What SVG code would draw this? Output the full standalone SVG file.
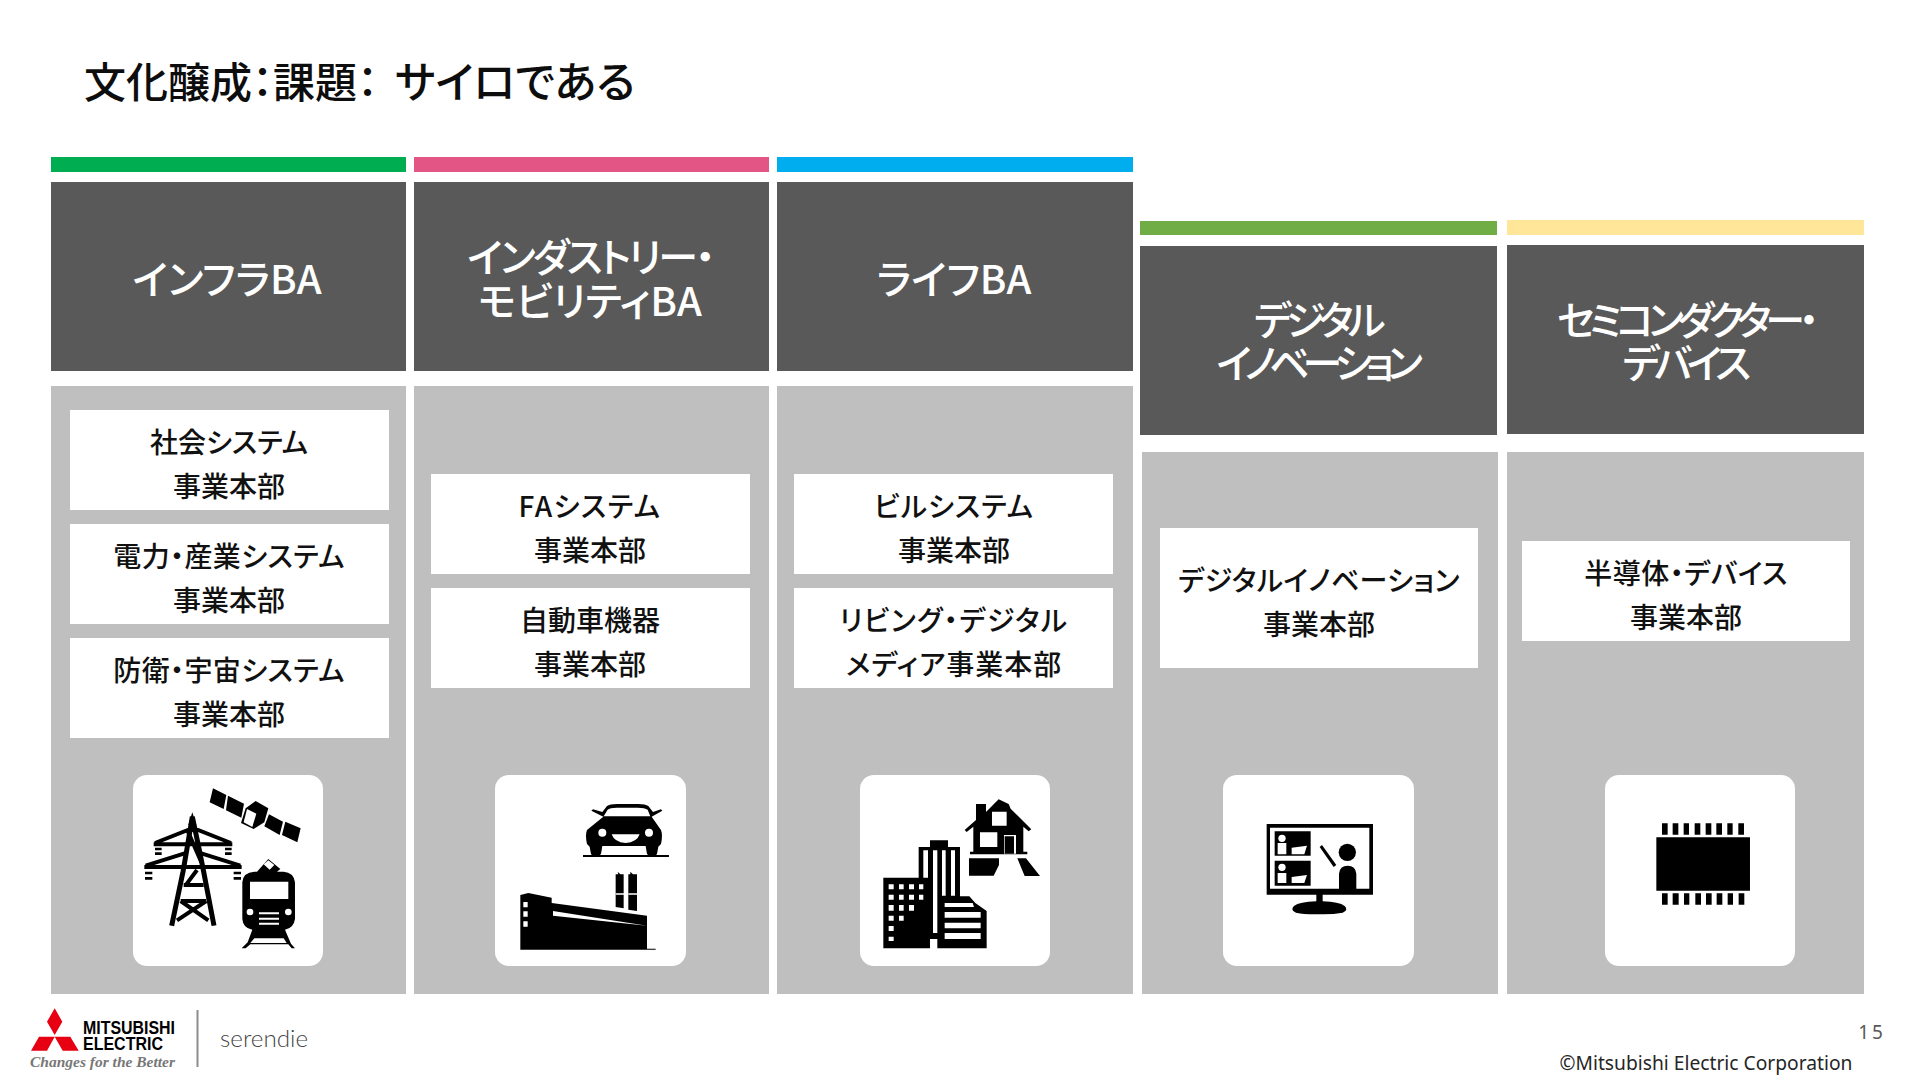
<svg xmlns="http://www.w3.org/2000/svg" width="1920" height="1080" viewBox="0 0 1920 1080">
<style>
text{font-family:"Noto Sans CJK JP","Noto Sans",sans-serif;font-feature-settings:"palt";text-anchor:middle}
.h{fill:#fff;font-size:40px;font-weight:500}
.b{fill:#111;font-size:28px;font-weight:500}
.k{letter-spacing:1px}
.d{fill:#595959}
.g{fill:#bfbfbf}
.w{fill:#fff}
.i{fill:#000}
.l{fill:none;stroke:#000}
</style>
<rect width="1920" height="1080" fill="#fff"/>
<text id="title" y="98" style="text-anchor:start;font-size:42px;font-weight:500;fill:#0d0d0d"><tspan x="84">文化醸成：</tspan><tspan x="273">課題：</tspan><tspan x="395" style="font-size:43px">サイロである</tspan></text>

<g id="col-infra">
<rect x="51" y="157" width="355" height="15" fill="#00ad50"/>
<rect class="d" x="51" y="182" width="355" height="189"/>
<text class="h" x="227" y="294">インフラBA</text>
<rect class="g" x="51" y="386" width="355" height="608"/>
<rect class="w" x="70" y="410" width="319" height="100"/>
<text class="b" x="229" y="453">社会システム</text><text class="b" x="229" y="497">事業本部</text>
<rect class="w" x="70" y="524" width="319" height="100"/>
<text class="b" x="229" y="567" style="letter-spacing:.4px">電力・産業システム</text><text class="b" x="229" y="611">事業本部</text>
<rect class="w" x="70" y="638" width="319" height="100"/>
<text class="b" x="229" y="681" style="letter-spacing:.4px">防衛・宇宙システム</text><text class="b" x="229" y="725">事業本部</text>
<rect class="w" x="133" y="775" width="190" height="191" rx="14"/>
<g transform="translate(133 775) scale(.3333)">
<path class="i" d="M240 40l40 20-8 42-42-20zM285 62l48 24-8 42-46-22zM338 100l30-22 38 22-12 42-32 20-38-18zM408 118l42 22-10 40-46-26zM457 140l46 20-10 42-46-22z"/>
<path class="w" d="M342 102l28 14-12 40-26-14z"/>
<path class="l" stroke-width="15" d="M178 125L163 215 150 290 116 452M178 125L197 215 212 290 243 452"/>
<path class="l" stroke-width="12" d="M62 208H298M34 276H326M66 204L165 165H195L294 204M38 272L155 235M322 272L205 235M165 170L205 262M192 285L160 328M152 330H212M143 378H220M143 378L226 436M220 378L132 436"/>
<path class="i" d="M178 112l12 38h-24z"/>
<path class="i" d="M66 218h20v8H66zM66 232h20v8H66zM276 218h20v8h-20zM276 232h20v8h-20zM36 290h22v8H36zM36 306h22v8H36zM302 290h22v8h-22zM302 306h22v8h-22z"/>
<path class="i" d="M374 290h-2l34-38 36 30-10 8h20q30 2 34 32v110q-4 28-30 32l18 42 12 14h-10l-10-12h-114l-14 12h-12l18-18 14-38q-28-4-30-32V322q2-30 36-32z"/>
<path class="w" d="M351 320h115v52H351zM392 268l14-12 18 14-14 14zM378 412h60v6h-60zM378 428h60v6h-60zM378 443h60v6h-60zM364 490h88l9 14H352z"/>
<circle class="w" cx="351" cy="411" r="10"/><circle class="w" cx="466" cy="411" r="10"/>
</g>
</g>

<g id="col-industry">
<rect x="414" y="157" width="355" height="15" fill="#e25584"/>
<rect class="d" x="414" y="182" width="355" height="189"/>
<text class="h" x="590" y="272" style="letter-spacing:-2.6px">インダストリー・</text><text class="h" x="590" y="316">モビリティBA</text>
<rect class="g" x="414" y="386" width="355" height="608"/>
<rect class="w" x="431" y="474" width="319" height="100"/>
<text class="b" x="590" y="517" style="letter-spacing:1.5px">FAシステム</text><text class="b" x="590" y="561">事業本部</text>
<rect class="w" x="431" y="588" width="319" height="100"/>
<text class="b" x="590" y="631">自動車機器</text><text class="b" x="590" y="675">事業本部</text>
<rect class="w" x="495" y="775" width="191" height="191" rx="14"/>
<g transform="translate(495 775) scale(.3333)">
<path class="i" d="M264 240h258v6H264z"/>
<path class="i" d="M325 125l-36-18 5-4 28 8 14-18q8-6 30-6h64q22 0 30 6l14 18 24-8 4 4-32 18 28 40q6 16 0 42l-8 8-4 22q-4 8-14 8t-16-8l-4-24H322l-4 24q-6 8-16 8t-14-8l-4-22-8-8q-6-26 0-42z"/>
<path class="w" d="M326 124l12-20q6-6 28-6h62q22 0 30 6l8 20zM350 178h84q-8 24-42 26-34-2-42-26z"/>
<circle class="w" cx="322" cy="173" r="12"/><circle class="w" cx="462" cy="173" r="12"/>
<path class="i" d="M368 290l8 8h10v102l-24-4V298h8zM406 290l8 8h12v110l-26-4V298h6z"/>
<path class="w" d="M362 355h26v4h-26zM400 355h26v4h-26z"/>
<path class="i" d="M76 360l24-6 70 14v16l286 38v30L174 408v14l282 30v69h26v3H76z"/>
<path class="w" d="M85 381h13v16H85zM85 409h13v16H85zM85 439h13v16H85z"/>
</g>
</g>

<g id="col-life">
<rect x="777" y="157" width="356" height="15" fill="#00aeef"/>
<rect class="d" x="777" y="182" width="356" height="189"/>
<text class="h" x="954" y="294">ライフBA</text>
<rect class="g" x="777" y="386" width="356" height="608"/>
<rect class="w" x="794" y="474" width="319" height="100"/>
<text class="b k" x="954" y="517">ビルシステム</text><text class="b" x="954" y="561">事業本部</text>
<rect class="w" x="794" y="588" width="319" height="100"/>
<text class="b k" x="954" y="631" style="letter-spacing:1.4px">リビング・デジタル</text><text class="b k" x="954" y="675">メディア事業本部</text>
<rect class="w" x="860" y="775" width="190" height="191" rx="14"/>
<g transform="translate(860 775) scale(.3333)">
<path class="i" d="M348 87h30v24l38-38 30 14 6 14 62 62-8 6-16-14v75h12v8H330v-8h10v-75l-20 16-6-6 34-30z"/>
<path class="w" d="M396 110h44v42h-44zM360 172h52v44h-52zM432 180h36v56h-36z"/>
<path class="i" d="M434 184h28v52h-28zM327 250h90v20l-16 32h-74zM472 250h26l42 53h-46z"/>
<path class="i" d="M70 308h106v-92h34v-20h54v20h36v148h28l18 20 34 24v112H232v-28h-22v28H70z"/>
<path class="w" d="M190 226h14v82h-14zM219 226h13v248h-13zM246 226h11v136h-11zM273 226h12v136h-12zM254 384h84l4 12h-88zM254 411h108v17H254zM254 443h108v17H254zM254 474h108v18H254z"/>
<path class="w" d="M86 328h15v15H86zM117 328h14v15h-14zM147 328h15v15h-15zM177 328h13v15h-13zM86 359h15v15H86zM117 359h14v15h-14zM147 359h15v15h-15zM177 359h13v15h-13zM86 390h15v17H86zM117 390h14v17h-14zM147 390h15v17h-15zM86 422h15v15H86zM117 422h14v15h-14zM86 453h15v15H86zM86 485h15v13H86z"/>
</g>
</g>

<g id="col-digital">
<rect x="1140" y="221" width="357" height="14" fill="#70ad47"/>
<rect class="d" x="1140" y="246" width="357" height="189"/>
<text class="h" x="1317" y="335" style="letter-spacing:-5.500px">デジタル</text><text class="h" x="1316" y="378" style="letter-spacing:-7px">イノベーション</text>
<rect class="g" x="1142" y="452" width="356" height="542"/>
<rect class="w" x="1160" y="528" width="318" height="140"/>
<text class="b" x="1319" y="591" style="letter-spacing:.4px">デジタルイノベーション</text><text class="b" x="1319" y="635">事業本部</text>
<rect class="w" x="1223" y="775" width="191" height="191" rx="14"/>
<g transform="translate(1223 775) scale(.3333)">
<path class="i" d="M131 147h319v212H299v20q50 2 66 14 12 12-6 20-30 6-70 5-44 1-70-5-18-8-6-20 16-12 67-14v-20H131z"/>
<path class="w" d="M141 158h298v183H141z"/>
<path class="i" d="M155 169h108v73H155zM155 257h108v75H155z"/>
<path class="w" d="M164 204h26v34h-26zM206 218l46-6-8 26h-38zM164 294h26v30h-26zM206 306l46-6-8 24h-38z"/>
<circle class="w" cx="177" cy="190" r="11"/><circle class="w" cx="177" cy="277" r="11"/>
<circle class="i" cx="373" cy="232" r="26"/>
<path class="i" d="M348 296q2-24 26-24t26 24v48h-52zM290 216l7-6 43 60-8 6z"/>
</g>
</g>

<g id="col-semi">
<rect x="1507" y="220" width="357" height="15" fill="#ffe699"/>
<rect class="d" x="1507" y="245" width="357" height="189"/>
<text class="h" x="1685" y="335" style="letter-spacing:-6px">セミコンダクター・</text><text class="h" x="1684" y="378" style="letter-spacing:-5.500px">デバイス</text>
<rect class="g" x="1507" y="452" width="357" height="542"/>
<rect class="w" x="1522" y="541" width="328" height="100"/>
<text class="b" x="1686" y="584" style="letter-spacing:.5px">半導体・デバイス</text><text class="b" x="1686" y="628">事業本部</text>
<rect class="w" x="1605" y="775" width="190" height="191" rx="14"/>
<g transform="translate(1605 775) scale(.3333)">
<path class="i" d="M154 187h281v160H154z"/>
<path class="i" d="M171 145h17v34h-17zM203 145h17v34h-17zM236 145h16v34h-16zM269 145h17v34h-17zM302 145h17v34h-17zM334 145h17v34h-17zM367 145h16v34h-16zM400 145h17v34h-17zM171 355h17v34h-17zM203 355h18v34h-18zM237 355h16v34h-16zM271 355h17v34h-17zM303 355h17v34h-17zM335 355h17v34h-17zM368 355h16v34h-16zM401 355h17v34h-17z"/>
</g>
</g>

<g id="footer">
<path fill="#e60012" d="M54.700 1008.300l7.600 13.400-7.600 13.300-7.700-13.300zM39 1036.700h15.700L47 1050.700H31zM54.700 1036.700H70.300l8.400 14H62.700z"/>
<text x="83" y="1033.500" textLength="92" lengthAdjust="spacingAndGlyphs" style="text-anchor:start;font-family:'Liberation Sans',sans-serif;font-weight:700;font-size:18px;fill:#000">MITSUBISHI</text>
<text x="83" y="1050" textLength="80" lengthAdjust="spacingAndGlyphs" style="text-anchor:start;font-family:'Liberation Sans',sans-serif;font-weight:700;font-size:18px;fill:#000">ELECTRIC</text>
<text x="30" y="1067" textLength="145" lengthAdjust="spacingAndGlyphs" style="text-anchor:start;font-family:'Liberation Serif',serif;font-style:italic;font-weight:700;font-size:14px;fill:#777">Changes for the Better</text>
<rect x="196.500" y="1010" width="2" height="57" fill="#8c8c8c"/>
<text x="220" y="1047" textLength="88" lengthAdjust="spacingAndGlyphs" style="text-anchor:start;font-family:Lato,sans-serif;font-weight:300;font-size:24px;fill:#444">serendie</text>
<text x="1872" y="1039" style="font-family:'Noto Sans',sans-serif;font-size:19px;letter-spacing:3px;fill:#595959">15</text>
<text x="1706" y="1070" textLength="293" lengthAdjust="spacingAndGlyphs" style="font-family:'Noto Sans',sans-serif;font-size:19px;fill:#262626">©Mitsubishi Electric Corporation</text>
</g>
</svg>
